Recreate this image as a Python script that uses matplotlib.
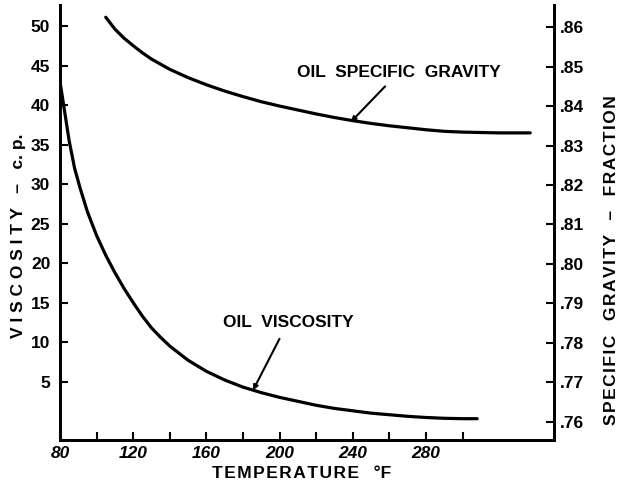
import numpy as np
import matplotlib
matplotlib.use('Agg')
import matplotlib.pyplot as plt
from matplotlib.ticker import FixedLocator, FuncFormatter

# values
temp_visc = [80, 82, 85, 88, 91, 95, 100, 105, 110, 115, 120, 125, 130, 135, 140,
             150, 160, 170, 180, 190, 200, 210, 220, 230, 240, 250, 260, 270, 280,
             290, 300, 308]
viscosity = [43, 40, 35.5, 32, 29.5, 26.5, 23.5, 21, 18.8, 16.8, 15, 13.3, 11.8,
             10.6, 9.5, 7.7, 6.3, 5.2, 4.3, 3.6, 3.0, 2.5, 2.0, 1.6, 1.3, 1.0,
             0.8, 0.6, 0.45, 0.35, 0.3, 0.3]

temp_sg = [105, 110, 115, 120, 125, 130, 140, 150, 160, 170, 180, 190, 200, 210,
           220, 230, 240, 250, 260, 270, 280, 290, 300, 310, 320, 337]
spec_grav = [.8625, .8595, .8572, .8553, .8535, .8519, .8493, .8472, .8454, .8438,
             .8424, .8411, .8400, .8390, .8380, .8371, .8363, .8356, .8350, .8345,
             .8340, .8336, .8334, .8333, .8332, .8332]

x_major = [80, 120, 160, 200, 240, 280]
x_minor = [100, 140, 180, 220, 260, 300]
visc_ticks = [5, 10, 15, 20, 25, 30, 35, 40, 45, 50]
sg_ticks = [.76, .77, .78, .79, .80, .81, .82, .83, .84, .85, .86]

plt.rcParams['font.family'] = ['Liberation Sans', 'DejaVu Sans']
plt.rcParams['font.weight'] = 'bold'

fig = plt.figure(figsize=(6.3, 4.87), dpi=100)
ax = fig.add_axes([60/630, 47/487, 494/630, 435/487])
ax2 = ax.twinx()

ax.plot(temp_visc, viscosity, color='black', lw=2.3, solid_capstyle='round',
        solid_joinstyle='round')
ax2.plot(temp_sg, spec_grav, color='black', lw=2.3, solid_capstyle='round',
         solid_joinstyle='round')

ax.set_xlim(80, 350)
ax.set_ylim(-2.4, 52.7)
ax2.set_ylim(.7554, .8656)

for a in (ax, ax2):
    a.spines['top'].set_visible(False)
    for s in a.spines.values():
        s.set_linewidth(2)

ax.xaxis.set_major_locator(FixedLocator(x_major))
ax.xaxis.set_minor_locator(FixedLocator(x_minor))
ax.yaxis.set_major_locator(FixedLocator(visc_ticks))
ax2.yaxis.set_major_locator(FixedLocator(sg_ticks))
ax2.yaxis.set_major_formatter(FuncFormatter(lambda v, p: ('%.2f' % v)[1:]))

ax.tick_params(axis='both', which='both', direction='in', length=6, width=1.5,
               labelsize=12.5)
ax.tick_params(axis='y', pad=7)
ax.tick_params(axis='x', pad=4)
ax2.tick_params(axis='y', direction='in', length=6, width=1.5, labelsize=12.5, pad=4)
for lbl in ax.get_xticklabels():
    lbl.set_fontstyle('italic')

ax.annotate('OIL  VISCOSITY', xy=(185.5, 3.9), xytext=(204.6, 12.5),
            ha='center', va='center', fontsize=12.5, fontweight='bold',
            arrowprops=dict(arrowstyle='-|>', color='black', lw=1.5,
                            shrinkA=5, shrinkB=0, mutation_scale=7))
ax2.annotate('OIL  SPECIFIC  GRAVITY', xy=(239, .8360), xytext=(265.2, .8486),
             ha='center', va='center', fontsize=12.5, fontweight='bold',
             arrowprops=dict(arrowstyle='-|>', color='black', lw=1.5,
                             shrinkA=4, shrinkB=0, mutation_scale=7))

hs = '\u200a'
fig.text(302/630, 1 - 474/487, hs.join('TEMPERATURE') + '   °F', ha='center',
         va='center', fontsize=12.5, fontweight='bold')
fig.text(19/630, 1 - 236/487, ' '.join('VISCOSITY') + '   –   c. p.', rotation=90,
         ha='center', va='center', fontsize=12.5, fontweight='bold')
fig.text(611/630, 1 - 260/487,
         hs.join('SPECIFIC') + '   ' + hs.join('GRAVITY') + '   –   ' + hs.join('FRACTION'),
         rotation=90, ha='center', va='center', fontsize=12.5, fontweight='bold')

fig.savefig('out.png', dpi=100)
